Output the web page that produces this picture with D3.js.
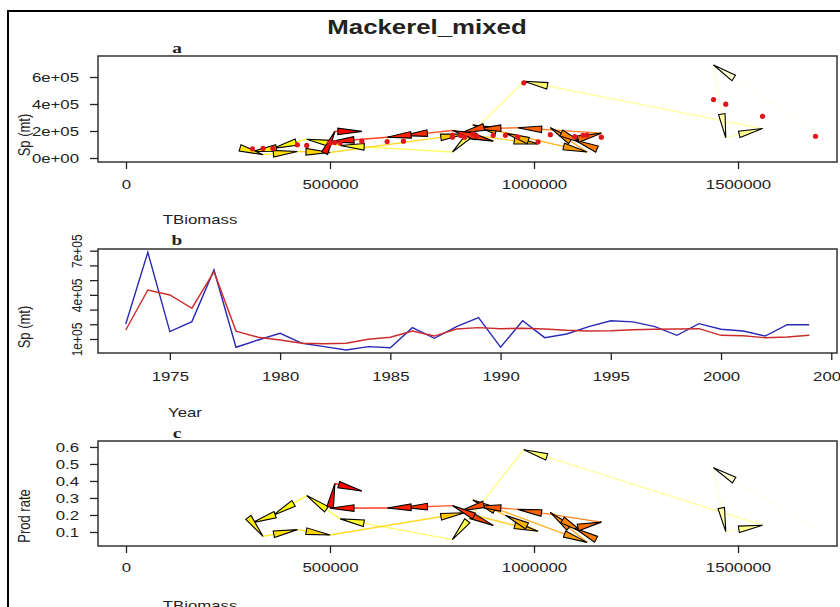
<!DOCTYPE html>
<html>
<head>
<meta charset="utf-8">
<script src="https://cdn.jsdelivr.net/npm/d3@7"></script>
<style>
  body { margin: 0; background: #fff; }
  svg { display: block; }
  text { font-family: "Liberation Sans", Arial, sans-serif; fill: #222; }
</style>
</head>
<body>
<div id="chart"></div>
<script>
// ---- data ----
const years = [1973, 1974, 1975, 1976, 1977, 1978, 1979, 1980, 1981, 1982, 1983, 1984, 1985, 1986, 1987, 1988,
               1989, 1990, 1991, 1992, 1993, 1994, 1995, 1996, 1997, 1998, 1999, 2000, 2001, 2002, 2003, 2004];
// total biomass (t)
const tBiomass = [1690000, 1440000, 1470000, 1560000, 975000, 800000, 525000, 443000, 360000, 310000, 336000, 420000,
                  500000, 830000, 1010000, 930000, 850000, 1130000, 1040000, 1120000, 1100000, 1165000, 960000, 860000,
                  820000, 900000, 800000, 680000, 640000, 500000, 512000, 578000];
// surplus production, observed (blue) and fitted (red)
const spObs = [202000, 689000, 150000, 218000, 569000, 44000, 93000, 139000, 71000, 48000, 25000, 48000,
               41000, 177000, 105000, 184000, 245000, 44000, 224000, 109000, 134000, 184000, 224000, 216000,
               184000, 125000, 204000, 166000, 154000, 120000, 197000, 197000];
const spFit = [161000, 433000, 399000, 309000, 557000, 154000, 112000, 93000, 71000, 68000, 71000, 98000,
               112000, 154000, 120000, 168000, 177000, 170000, 173000, 168000, 159000, 154000, 156000, 163000,
               166000, 168000, 170000, 125000, 122000, 109000, 114000, 125000];
// production rate
const prodRate = [0.120, 0.478, 0.102, 0.140, 0.584, 0.055, 0.177, 0.314, 0.197, 0.155, 0.074, 0.114,
                  0.082, 0.213, 0.104, 0.198, 0.288, 0.039, 0.215, 0.097, 0.122, 0.158, 0.233, 0.251,
                  0.224, 0.139, 0.255, 0.244, 0.241, 0.240, 0.385, 0.341];

const biomassTicks = [0, 500000, 1000000, 1500000];
const spTicksA = [0, 200000, 400000, 600000];
const spTicksB = [100000, 200000, 300000, 400000, 500000, 600000, 700000];
const spLabelsB = [100000, 400000, 700000];
const yearTicks = [1975, 1980, 1985, 1990, 1995, 2000, 2005];
const rateTicks = [0.1, 0.2, 0.3, 0.4, 0.5, 0.6];

const SX = 1.29; // the picture is stretched sideways
const width = 840, height = 607;
const left = 98, right = 837;

// R's heat.colors(n), reversed so early years are pale
function heatColors(n) {
  const j = Math.floor(n / 4), i = n - j, out = [];
  for (let k = 0; k < i; k++) {
    const h = (1 / 6) * k / (i - 1);
    out.push(d3.rgb(255, Math.round(255 * h * 6), 0).formatHex());
  }
  for (let k = 0; k < j; k++) {
    const s = (1 - 1 / (2 * j)) + ((1 / (2 * j)) - (1 - 1 / (2 * j))) * k / (j - 1);
    out.push(d3.rgb(255, 255, Math.round(255 * (1 - s))).formatHex());
  }
  return out;
}
const yearCol = heatColors(years.length).reverse();

const svg = d3.select('#chart').append('svg')
  .attr('width', width)
  .attr('height', height);

svg.append('rect').attr('width', width).attr('height', height).attr('fill', '#fff');
svg.append('rect')
  .attr('x', 8).attr('y', 11).attr('width', 900).attr('height', 700)
  .attr('fill', 'none').attr('stroke', '#000').attr('stroke-width', 2);

function label(x, y, s, size, opts = {}) {
  return svg.append('text')
    .attr('transform', `translate(${x},${y}) scale(${SX},1)${opts.rot ? ' rotate(-90)' : ''}`)
    .attr('text-anchor', opts.anchor || 'middle')
    .style('font-size', size + 'px')
    .style('font-weight', opts.bold ? 'bold' : null)
    .style('font-family', opts.serif ? '"Liberation Serif", "DejaVu Serif", serif' : null)
    .text(s);
}

label(427, 34, 'Mackerel_mixed', 20, {bold: true});

function frame(top, bottom, id) {
  svg.append('clipPath').attr('id', id)
    .append('rect').attr('x', left).attr('y', top).attr('width', right - left).attr('height', bottom - top);
  return svg.append('g').attr('clip-path', `url(#${id})`);
}
function box(top, bottom) {
  svg.append('rect')
    .attr('x', left).attr('y', top).attr('width', right - left).attr('height', bottom - top)
    .attr('fill', 'none').attr('stroke', '#333').attr('stroke-width', 1.5);
}
function bottomAxis(scale, ticks, y, pad, fmt) {
  const g = svg.append('g')
    .attr('transform', `translate(0,${y})`)
    .call(d3.axisBottom(scale).tickValues(ticks).tickSize(7).tickPadding(pad).tickFormat(fmt));
  g.select('.domain').remove();
  g.selectAll('line').attr('stroke', '#222').attr('stroke-width', 1.3);
  g.selectAll('text').attr('font-size', null).style('font-size', '13px')
    .attr('font-family', null).attr('fill', '#222')
    .attr('transform', `scale(${SX},1)`);
  return g;
}
function leftAxis(scale, ticks, fmt) {
  const g = svg.append('g')
    .attr('transform', `translate(${left},0)`)
    .call(d3.axisLeft(scale).tickValues(ticks).tickSize(8).tickPadding(11).tickFormat(fmt));
  g.select('.domain').remove();
  g.selectAll('line').attr('stroke', '#222').attr('stroke-width', 1.3);
  g.selectAll('text').attr('font-size', null).style('font-size', '13px')
    .attr('font-family', null).attr('fill', '#222')
    .attr('x', -19 / SX).attr('transform', `scale(${SX},1)`);
  return g;
}

function arrowHead(p0, p1) {
  const dx = p1[0] - p0[0], dy = p1[1] - p0[1];
  const len = Math.hypot(dx, dy) || 1;
  const ux = dx / len, uy = dy / len;
  const L = 24, W = 3.3;
  const bx = p1[0] - ux * L, by = p1[1] - uy * L;
  return [p1, [bx - uy * W, by + ux * W], [bx + uy * W, by - ux * W]];
}

function phasePath(g, pts) {
  for (let i = 1; i < pts.length; i++) {
    g.append('line')
      .attr('x1', pts[i - 1][0]).attr('y1', pts[i - 1][1])
      .attr('x2', pts[i][0]).attr('y2', pts[i][1])
      .attr('stroke', yearCol[i - 1]).attr('stroke-width', 1.4)
      .attr('stroke-opacity', 0.85);
  }
  for (let i = 1; i < pts.length; i++) {
    g.append('polygon')
      .attr('points', arrowHead(pts[i - 1], pts[i]).map(p => p.join(',')).join(' '))
      .attr('fill', yearCol[i])
      .attr('stroke', '#000').attr('stroke-width', 1.1)
      .attr('stroke-linejoin', 'miter');
  }
}

const sciFmt = d => d === 0 ? '0e+00' : (d / 100000) + 'e+05';

// ---------- panel a ----------
const xA = d3.scaleLinear().domain([-68600, 1742600]).range([left, right]);
const yA = d3.scaleLinear().domain([-29600, 755600]).range([162, 56]);
const gA = frame(56, 162, 'clipA');
phasePath(gA, years.map((y, i) => [xA(tBiomass[i]), yA(spObs[i])]));
gA.selectAll('circle')
  .data(years)
  .enter()
    .append('circle')
    .attr('cx', (d, i) => xA(tBiomass[i]))
    .attr('cy', (d, i) => yA(spFit[i]))
    .attr('r', 2.6)
    .attr('fill', '#e0161b');
box(56, 162);
bottomAxis(xA, biomassTicks, 162, 11, d3.format('d'));
leftAxis(yA, spTicksA, sciFmt);
label(30, 135, 'Sp (mt)', 13, {rot: true});
label(200, 224, 'TBiomass', 13);
label(177, 53, 'a', 15, {bold: true, serif: true});

// ---------- panel b ----------
const xB = d3.scaleLinear().domain([1971.74, 2005.26]).range([left, right]);
const yB = d3.scaleLinear().domain([4900, 711400]).range([353, 249]);
const gB = frame(249, 353, 'clipB');
const lineObs = d3.line().x((d, i) => xB(years[i])).y(d => yB(d));
gB.append('path').datum(spObs).attr('d', lineObs)
  .attr('fill', 'none').attr('stroke', '#2a2ab4').attr('stroke-width', 1.4);
gB.append('path').datum(spFit).attr('d', lineObs)
  .attr('fill', 'none').attr('stroke', '#cc2b2b').attr('stroke-width', 1.4);
box(249, 353);
bottomAxis(xB, yearTicks, 353, 12, d3.format('d'));
const axB = svg.append('g')
  .attr('transform', `translate(${left},0)`)
  .call(d3.axisLeft(yB).tickValues(spTicksB).tickSize(8)
    .tickFormat(d => spLabelsB.includes(d) ? sciFmt(d) : ''));
axB.select('.domain').remove();
axB.selectAll('line').attr('stroke', '#222').attr('stroke-width', 1.3);
axB.selectAll('text').attr('font-size', null).style('font-size', '12px')
  .attr('font-family', null).attr('fill', '#222')
  .attr('text-anchor', 'middle').attr('dy', null)
  .attr('x', 0).attr('y', -16 / SX)
  .attr('transform', `scale(${SX},1) rotate(-90)`);
label(30, 327, 'Sp (mt)', 13, {rot: true});
label(185, 417, 'Year', 13);
label(177, 245, 'b', 15, {bold: true, serif: true});

// ---------- panel c ----------
const xC = d3.scaleLinear().domain([-68600, 1742600]).range([left, right]);
const yC = d3.scaleLinear().domain([0.0176, 0.635]).range([546, 441]);
const gC = frame(441, 546, 'clipC');
phasePath(gC, years.map((y, i) => [xC(tBiomass[i]), yC(prodRate[i])]));
box(441, 546);
bottomAxis(xC, biomassTicks, 546, 10, d3.format('d'));
leftAxis(yC, rateTicks, d3.format('.1f'));
label(30, 516, 'Prod rate', 13, {rot: true});
label(200, 610, 'TBiomass', 13);
label(177, 438, 'c', 15, {bold: true, serif: true});
</script>
</body>
</html>
